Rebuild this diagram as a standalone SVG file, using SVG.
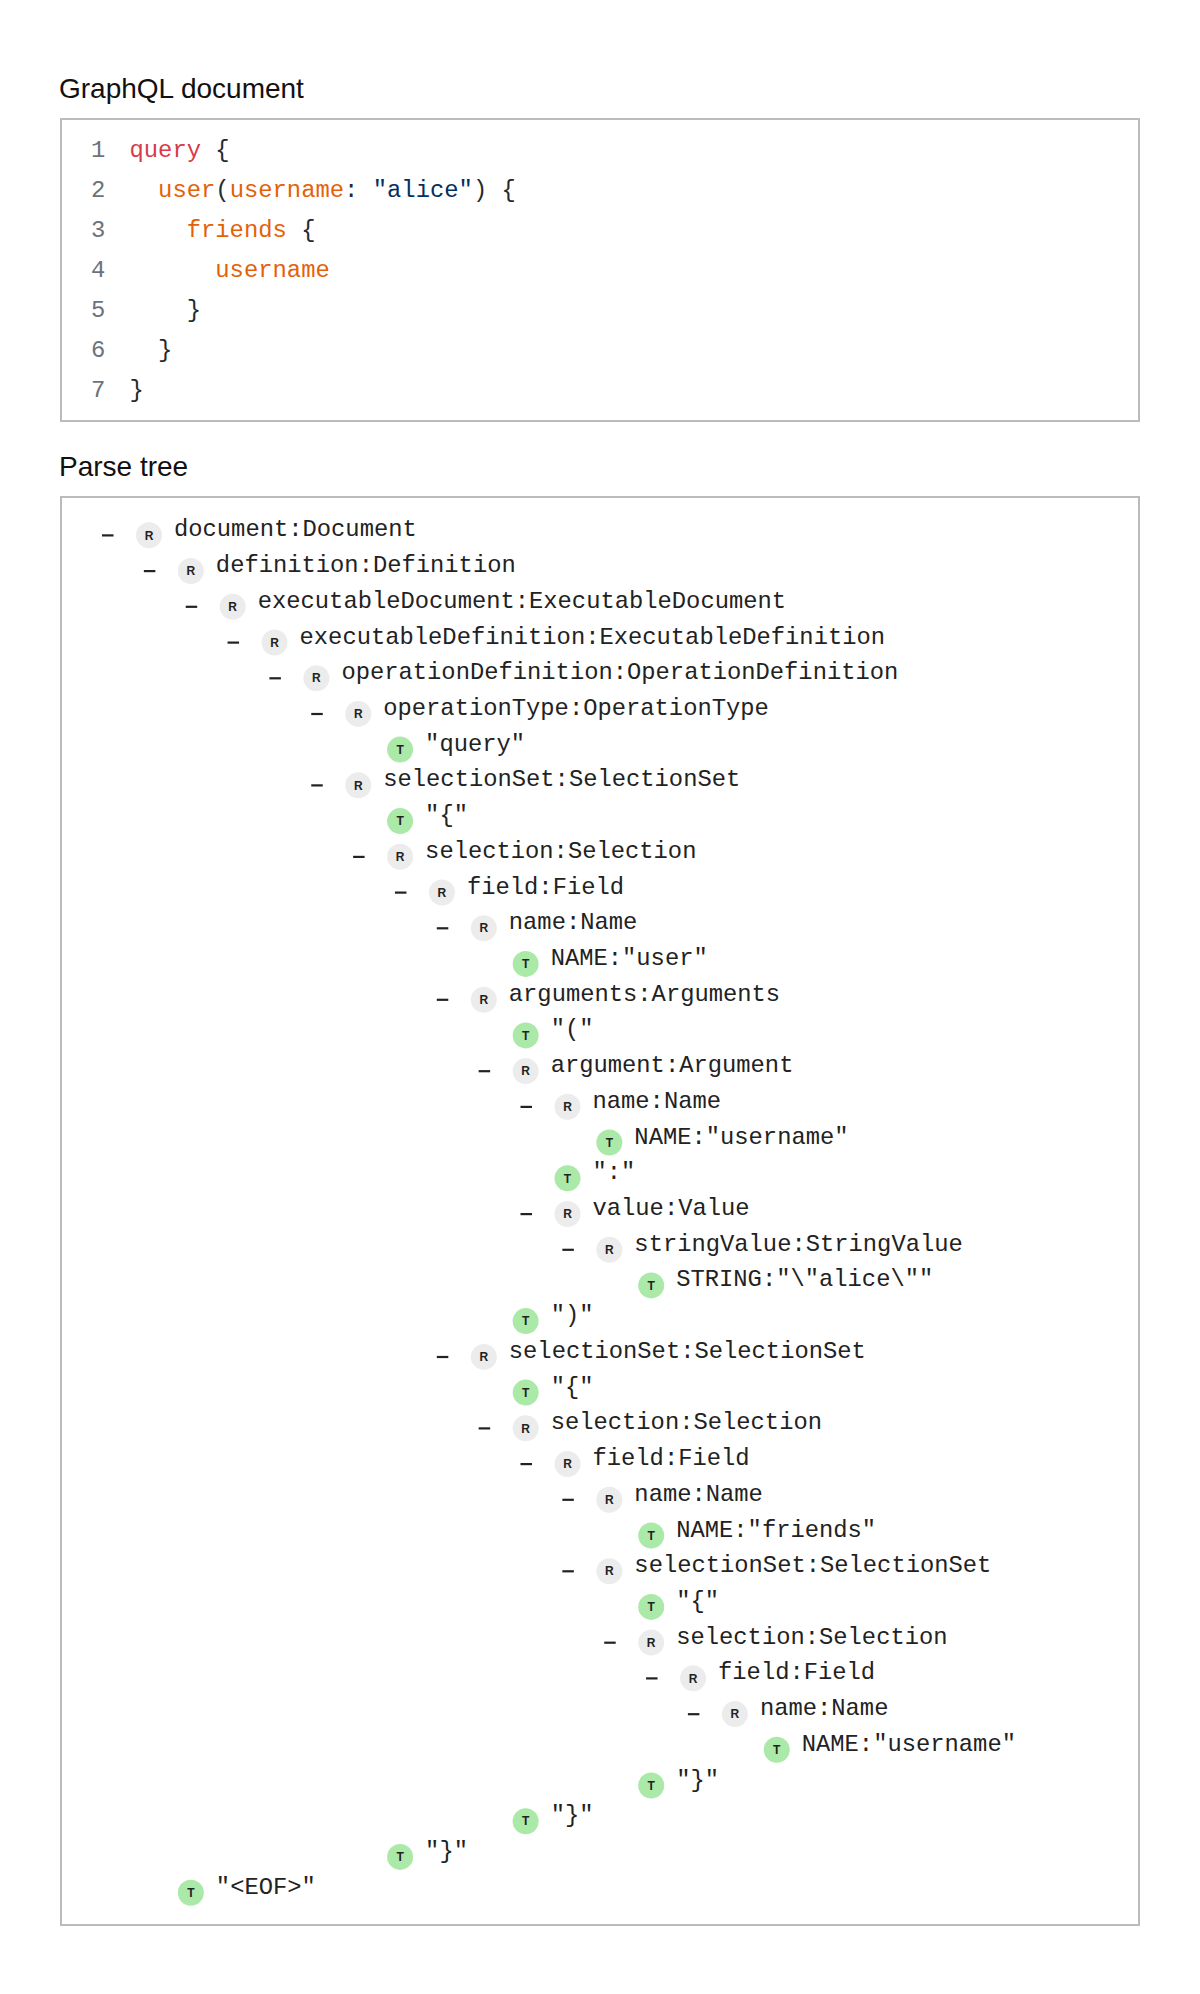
<svg xmlns="http://www.w3.org/2000/svg" width="1200" height="1994" viewBox="0 0 1200 1994">
<style>
.title{font-family:"Liberation Sans",Arial,sans-serif;font-size:28px;fill:#111}
.box{fill:#fff;stroke:#bbbbbb;stroke-width:2}
.code{font-family:"Liberation Mono","Courier New",monospace;font-size:23.85px;fill:#24292e}
.ln{fill:#6a737d}
.kw{fill:#d73a49}
.fd{fill:#e36209}
.st{fill:#032f62}
.lbl{font-family:"Liberation Mono","Courier New",monospace;font-size:23.8px;fill:#222}
.badge{font-family:"Liberation Sans",Arial,sans-serif;font-size:12px;font-weight:bold;fill:#222;text-anchor:middle}
.rb{fill:#ececec}
.tb{fill:#abe9a9}
.dash{fill:#222}
</style>
<rect width="1200" height="1994" fill="#ffffff"/>
<g id="code-section">
<text class="title" x="59" y="98.3">GraphQL document</text>
<rect class="box" x="61" y="119" width="1078" height="302"/>
<g class="code">
<text class="ln" x="91" y="156.7">1</text>
<text class="ln" x="91" y="196.7">2</text>
<text class="ln" x="91" y="236.7">3</text>
<text class="ln" x="91" y="276.7">4</text>
<text class="ln" x="91" y="316.7">5</text>
<text class="ln" x="91" y="356.7">6</text>
<text class="ln" x="91" y="396.7">7</text>
<text x="129.5" y="156.7"><tspan class="kw">query</tspan> {</text>
<text x="158.1" y="196.7"><tspan class="fd">user</tspan>(<tspan class="fd">username</tspan>: <tspan class="st">"alice"</tspan>) {</text>
<text x="186.7" y="236.7"><tspan class="fd">friends</tspan> {</text>
<text x="215.3" y="276.7"><tspan class="fd">username</tspan></text>
<text x="186.7" y="316.7">}</text>
<text x="158.1" y="356.7">}</text>
<text x="129.5" y="396.7">}</text>
</g>
</g>
<g id="tree-section">
<text class="title" x="59" y="475.7">Parse tree</text>
<rect class="box" x="61" y="497" width="1078" height="1428"/>
</g>
<g id="connectors"></g>
<g id="n0" transform="translate(149,535.3)"><rect class="dash" x="-47" y="-1" width="11.5" height="2.2"/><circle class="rb" r="13"/><text class="badge" y="4.2">R</text><text class="lbl" x="25" y="1">document:Document</text></g>
<g id="n1" transform="translate(190.85,571.0)"><rect class="dash" x="-47" y="-1" width="11.5" height="2.2"/><circle class="rb" r="13"/><text class="badge" y="4.2">R</text><text class="lbl" x="25" y="1">definition:Definition</text></g>
<g id="n2" transform="translate(232.7,606.7)"><rect class="dash" x="-47" y="-1" width="11.5" height="2.2"/><circle class="rb" r="13"/><text class="badge" y="4.2">R</text><text class="lbl" x="25" y="1">executableDocument:ExecutableDocument</text></g>
<g id="n3" transform="translate(274.55,642.5)"><rect class="dash" x="-47" y="-1" width="11.5" height="2.2"/><circle class="rb" r="13"/><text class="badge" y="4.2">R</text><text class="lbl" x="25" y="1">executableDefinition:ExecutableDefinition</text></g>
<g id="n4" transform="translate(316.4,678.2)"><rect class="dash" x="-47" y="-1" width="11.5" height="2.2"/><circle class="rb" r="13"/><text class="badge" y="4.2">R</text><text class="lbl" x="25" y="1">operationDefinition:OperationDefinition</text></g>
<g id="n5" transform="translate(358.25,713.9)"><rect class="dash" x="-47" y="-1" width="11.5" height="2.2"/><circle class="rb" r="13"/><text class="badge" y="4.2">R</text><text class="lbl" x="25" y="1">operationType:OperationType</text></g>
<g id="n6" transform="translate(400.1,749.6)"><circle class="tb" r="13"/><text class="badge" y="4.2">T</text><text class="lbl" x="25" y="1">"query"</text></g>
<g id="n7" transform="translate(358.25,785.3)"><rect class="dash" x="-47" y="-1" width="11.5" height="2.2"/><circle class="rb" r="13"/><text class="badge" y="4.2">R</text><text class="lbl" x="25" y="1">selectionSet:SelectionSet</text></g>
<g id="n8" transform="translate(400.1,821.1)"><circle class="tb" r="13"/><text class="badge" y="4.2">T</text><text class="lbl" x="25" y="1">"{"</text></g>
<g id="n9" transform="translate(400.1,856.8)"><rect class="dash" x="-47" y="-1" width="11.5" height="2.2"/><circle class="rb" r="13"/><text class="badge" y="4.2">R</text><text class="lbl" x="25" y="1">selection:Selection</text></g>
<g id="n10" transform="translate(441.95,892.5)"><rect class="dash" x="-47" y="-1" width="11.5" height="2.2"/><circle class="rb" r="13"/><text class="badge" y="4.2">R</text><text class="lbl" x="25" y="1">field:Field</text></g>
<g id="n11" transform="translate(483.8,928.2)"><rect class="dash" x="-47" y="-1" width="11.5" height="2.2"/><circle class="rb" r="13"/><text class="badge" y="4.2">R</text><text class="lbl" x="25" y="1">name:Name</text></g>
<g id="n12" transform="translate(525.65,963.9)"><circle class="tb" r="13"/><text class="badge" y="4.2">T</text><text class="lbl" x="25" y="1">NAME:"user"</text></g>
<g id="n13" transform="translate(483.8,999.7)"><rect class="dash" x="-47" y="-1" width="11.5" height="2.2"/><circle class="rb" r="13"/><text class="badge" y="4.2">R</text><text class="lbl" x="25" y="1">arguments:Arguments</text></g>
<g id="n14" transform="translate(525.65,1035.4)"><circle class="tb" r="13"/><text class="badge" y="4.2">T</text><text class="lbl" x="25" y="1">"("</text></g>
<g id="n15" transform="translate(525.65,1071.1)"><rect class="dash" x="-47" y="-1" width="11.5" height="2.2"/><circle class="rb" r="13"/><text class="badge" y="4.2">R</text><text class="lbl" x="25" y="1">argument:Argument</text></g>
<g id="n16" transform="translate(567.5,1106.8)"><rect class="dash" x="-47" y="-1" width="11.5" height="2.2"/><circle class="rb" r="13"/><text class="badge" y="4.2">R</text><text class="lbl" x="25" y="1">name:Name</text></g>
<g id="n17" transform="translate(609.35,1142.5)"><circle class="tb" r="13"/><text class="badge" y="4.2">T</text><text class="lbl" x="25" y="1">NAME:"username"</text></g>
<g id="n18" transform="translate(567.5,1178.3)"><circle class="tb" r="13"/><text class="badge" y="4.2">T</text><text class="lbl" x="25" y="1">":"</text></g>
<g id="n19" transform="translate(567.5,1214.0)"><rect class="dash" x="-47" y="-1" width="11.5" height="2.2"/><circle class="rb" r="13"/><text class="badge" y="4.2">R</text><text class="lbl" x="25" y="1">value:Value</text></g>
<g id="n20" transform="translate(609.35,1249.7)"><rect class="dash" x="-47" y="-1" width="11.5" height="2.2"/><circle class="rb" r="13"/><text class="badge" y="4.2">R</text><text class="lbl" x="25" y="1">stringValue:StringValue</text></g>
<g id="n21" transform="translate(651.2,1285.4)"><circle class="tb" r="13"/><text class="badge" y="4.2">T</text><text class="lbl" x="25" y="1">STRING:"\"alice\""</text></g>
<g id="n22" transform="translate(525.65,1321.1)"><circle class="tb" r="13"/><text class="badge" y="4.2">T</text><text class="lbl" x="25" y="1">")"</text></g>
<g id="n23" transform="translate(483.8,1356.9)"><rect class="dash" x="-47" y="-1" width="11.5" height="2.2"/><circle class="rb" r="13"/><text class="badge" y="4.2">R</text><text class="lbl" x="25" y="1">selectionSet:SelectionSet</text></g>
<g id="n24" transform="translate(525.65,1392.6)"><circle class="tb" r="13"/><text class="badge" y="4.2">T</text><text class="lbl" x="25" y="1">"{"</text></g>
<g id="n25" transform="translate(525.65,1428.3)"><rect class="dash" x="-47" y="-1" width="11.5" height="2.2"/><circle class="rb" r="13"/><text class="badge" y="4.2">R</text><text class="lbl" x="25" y="1">selection:Selection</text></g>
<g id="n26" transform="translate(567.5,1464.0)"><rect class="dash" x="-47" y="-1" width="11.5" height="2.2"/><circle class="rb" r="13"/><text class="badge" y="4.2">R</text><text class="lbl" x="25" y="1">field:Field</text></g>
<g id="n27" transform="translate(609.35,1499.7)"><rect class="dash" x="-47" y="-1" width="11.5" height="2.2"/><circle class="rb" r="13"/><text class="badge" y="4.2">R</text><text class="lbl" x="25" y="1">name:Name</text></g>
<g id="n28" transform="translate(651.2,1535.5)"><circle class="tb" r="13"/><text class="badge" y="4.2">T</text><text class="lbl" x="25" y="1">NAME:"friends"</text></g>
<g id="n29" transform="translate(609.35,1571.2)"><rect class="dash" x="-47" y="-1" width="11.5" height="2.2"/><circle class="rb" r="13"/><text class="badge" y="4.2">R</text><text class="lbl" x="25" y="1">selectionSet:SelectionSet</text></g>
<g id="n30" transform="translate(651.2,1606.9)"><circle class="tb" r="13"/><text class="badge" y="4.2">T</text><text class="lbl" x="25" y="1">"{"</text></g>
<g id="n31" transform="translate(651.2,1642.6)"><rect class="dash" x="-47" y="-1" width="11.5" height="2.2"/><circle class="rb" r="13"/><text class="badge" y="4.2">R</text><text class="lbl" x="25" y="1">selection:Selection</text></g>
<g id="n32" transform="translate(693.05,1678.3)"><rect class="dash" x="-47" y="-1" width="11.5" height="2.2"/><circle class="rb" r="13"/><text class="badge" y="4.2">R</text><text class="lbl" x="25" y="1">field:Field</text></g>
<g id="n33" transform="translate(734.9,1714.1)"><rect class="dash" x="-47" y="-1" width="11.5" height="2.2"/><circle class="rb" r="13"/><text class="badge" y="4.2">R</text><text class="lbl" x="25" y="1">name:Name</text></g>
<g id="n34" transform="translate(776.75,1749.8)"><circle class="tb" r="13"/><text class="badge" y="4.2">T</text><text class="lbl" x="25" y="1">NAME:"username"</text></g>
<g id="n35" transform="translate(651.2,1785.5)"><circle class="tb" r="13"/><text class="badge" y="4.2">T</text><text class="lbl" x="25" y="1">"}"</text></g>
<g id="n36" transform="translate(525.65,1821.2)"><circle class="tb" r="13"/><text class="badge" y="4.2">T</text><text class="lbl" x="25" y="1">"}"</text></g>
<g id="n37" transform="translate(400.1,1856.9)"><circle class="tb" r="13"/><text class="badge" y="4.2">T</text><text class="lbl" x="25" y="1">"}"</text></g>
<g id="n38" transform="translate(190.85,1892.7)"><circle class="tb" r="13"/><text class="badge" y="4.2">T</text><text class="lbl" x="25" y="1">"&lt;EOF&gt;"</text></g>
</svg>
